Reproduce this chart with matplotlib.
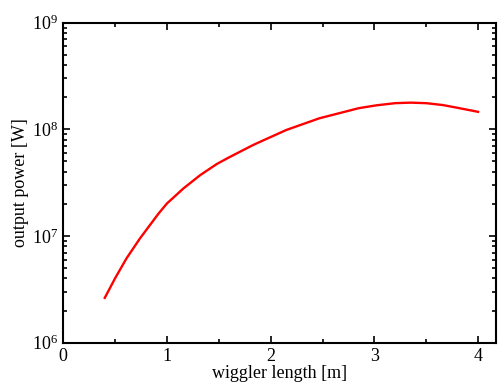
import matplotlib
matplotlib.use("Agg")
import matplotlib.pyplot as plt
from matplotlib.ticker import LogLocator, MultipleLocator

plt.rcParams['font.family'] = ['Liberation Serif', 'DejaVu Serif']
plt.rcParams['mathtext.fontset'] = 'custom'
plt.rcParams['mathtext.rm'] = 'Liberation Serif'
plt.rcParams['mathtext.it'] = 'Liberation Serif:italic'

length_m = [0.4, 0.5, 0.61, 0.74, 0.92, 1.0, 1.16, 1.32, 1.48, 1.6, 1.83, 2.15,
            2.47, 2.85, 3.02, 3.2, 3.35, 3.5, 3.66, 3.82, 4.0]
power_w = [2.63e6, 4.02e6, 6.18e6, 9.51e6, 1.63e7, 2.02e7, 2.80e7, 3.72e7,
           4.73e7, 5.47e7, 7.13e7, 9.86e7, 1.27e8, 1.58e8, 1.68e8, 1.76e8,
           1.78e8, 1.76e8, 1.69e8, 1.58e8, 1.46e8]

fig = plt.figure(figsize=(5.01, 3.84), dpi=100)
ax = fig.add_axes([0.1263, 0.1076, 0.8637, 0.8333])
ax.plot(length_m, power_w, color='red', lw=1.7)
ax.set_yscale('log')
ax.set_xlim(0, 4.173)
ax.set_ylim(1e6, 1e9)
ax.xaxis.set_major_locator(MultipleLocator(1))
ax.xaxis.set_minor_locator(MultipleLocator(0.5))
ax.yaxis.set_major_locator(LogLocator(base=10, numticks=10))
ax.yaxis.set_minor_locator(LogLocator(base=10, subs=range(2, 10), numticks=20))
for s in ax.spines.values():
    s.set_linewidth(1.5)
ax.tick_params(which='both', direction='in', top=True, right=True,
               labelsize=13, width=1.2, pad=4)
ax.tick_params(which='major', length=5)
ax.tick_params(which='minor', length=3)
ax.set_xlabel('wiggler length [m]', fontsize=13, labelpad=0)
ax.set_ylabel('output power [W]', fontsize=13, labelpad=2)
fig.savefig('out.png', dpi=100)
